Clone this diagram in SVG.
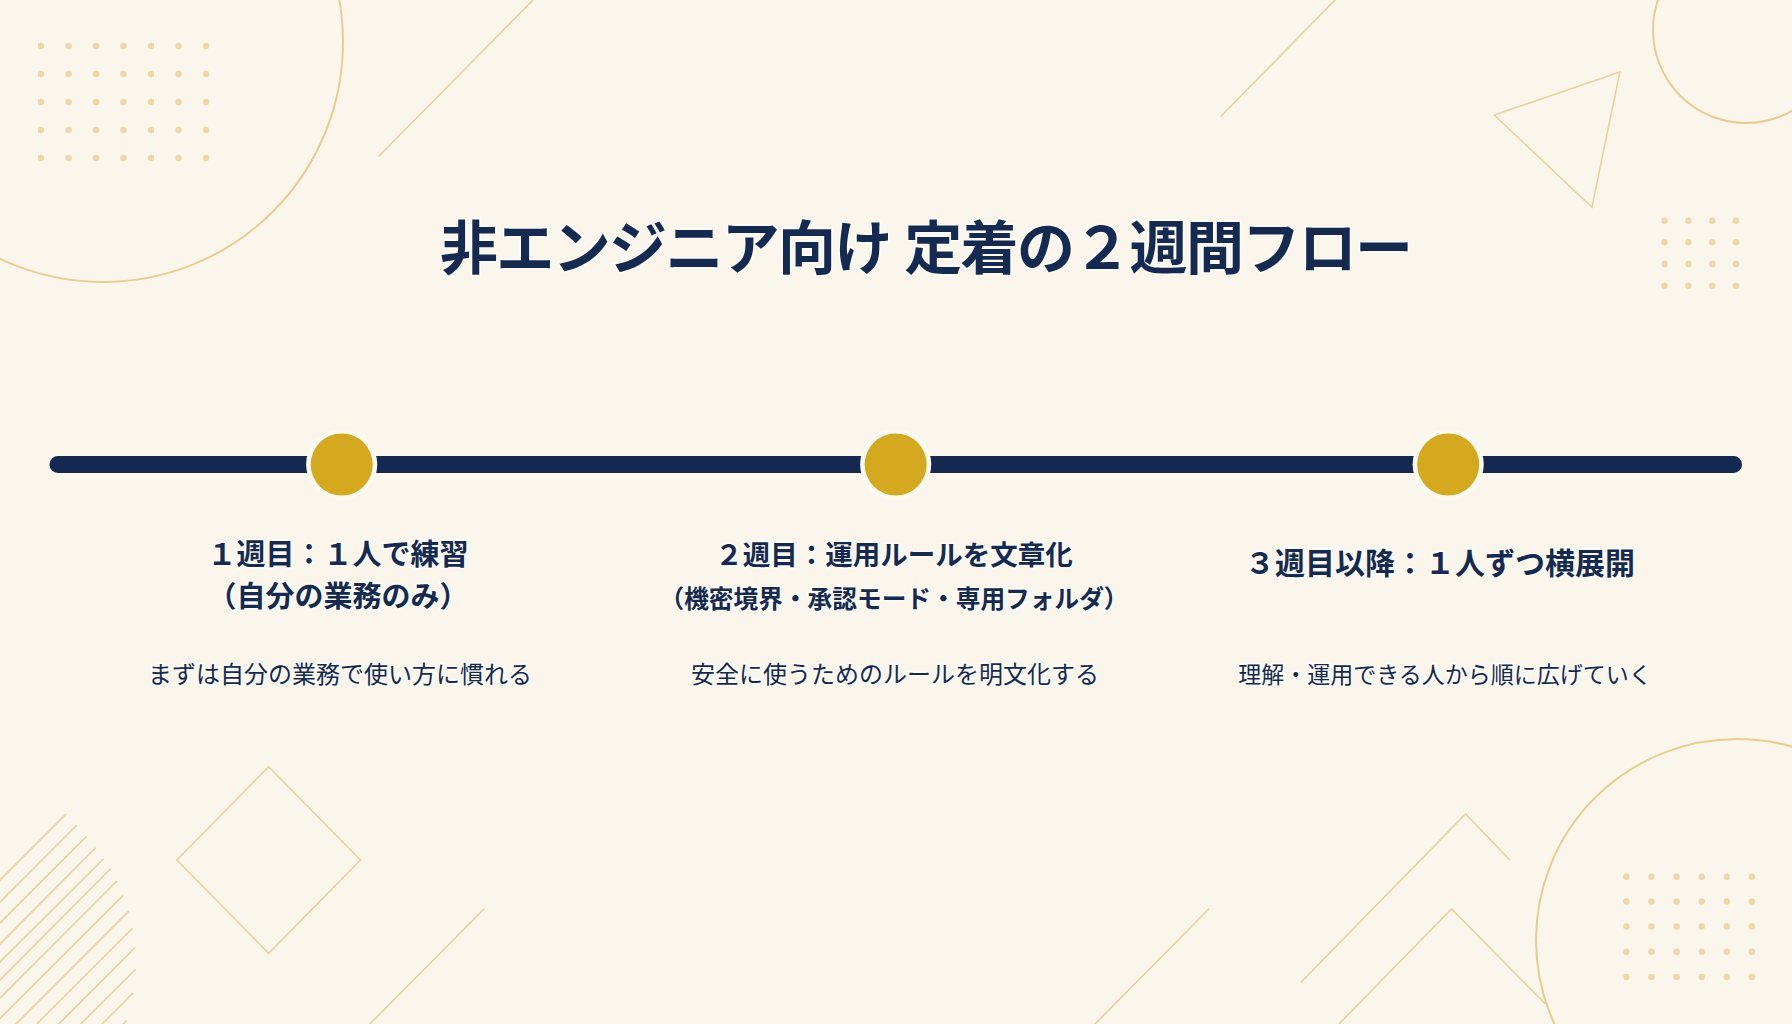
<svg xmlns="http://www.w3.org/2000/svg" width="1792" height="1024" viewBox="0 0 1792 1024">
<defs>
<style>
.deco{fill:none;stroke:#EAD29C;stroke-width:1.6;stroke-linecap:round;stroke-linejoin:miter}
.decoc{fill:none;stroke:#E9CD8F;stroke-width:2}
.dot{fill:#EDD8A6}
.title{font-family:"Noto Sans","Noto Sans CJK JP","Noto Sans CJK SC",sans-serif;font-weight:700;fill:#142A50;stroke:#FFFFFF;stroke-opacity:0.6;stroke-width:3;paint-order:stroke}
.head{font-family:"Noto Sans","Noto Sans CJK JP","Noto Sans CJK SC",sans-serif;font-weight:700;fill:#142A50;text-anchor:middle;stroke:#FFFFFF;stroke-opacity:0.6;stroke-width:3;paint-order:stroke}
.body{font-family:"Noto Sans","Noto Sans CJK JP","Noto Sans CJK SC",sans-serif;font-weight:400;fill:#142A50;text-anchor:middle;stroke:#FFFFFF;stroke-opacity:0.6;stroke-width:3;paint-order:stroke}
.ring{fill:#FCF9F2}
.pin{fill:#D4A91D}
.bar{fill:none;stroke:#13294F;stroke-width:17;stroke-linecap:round}
</style>
</defs>
<rect width="1792" height="1024" fill="#FAF6EC"/>
<g id="decor">
<circle class="decoc" cx="103" cy="42" r="240"/>
<line class="deco" x1="379" y1="156" x2="535" y2="-2"/>
<line class="deco" x1="1221.5" y1="115.7" x2="1336" y2="-1"/>
<polygon class="deco" points="1494.3,115 1619.9,72 1591.9,207.3"/>
<circle class="decoc" cx="1746" cy="30" r="93"/>
<polygon class="deco" points="268.7,766.7 360.5,860 268.7,953.3 176.8,860"/>
<g id="hatch">
<line class="deco" x1="65.8" y1="814.3" x2="-1" y2="881"/>
<line class="deco" x1="76.2" y1="825.7" x2="-1" y2="903"/>
<line class="deco" x1="86.1" y1="836.7" x2="-1" y2="924"/>
<line class="deco" x1="95.3" y1="848.3" x2="-1" y2="945"/>
<line class="deco" x1="103.3" y1="859" x2="-1" y2="963"/>
<line class="deco" x1="110.2" y1="869.3" x2="-1" y2="981"/>
<line class="deco" x1="116.7" y1="881.3" x2="-1" y2="999"/>
<line class="deco" x1="122.5" y1="896" x2="-1" y2="1019.5"/>
<line class="deco" x1="128.2" y1="911.7" x2="15" y2="1025"/>
<line class="deco" x1="132" y1="928.7" x2="35.7" y2="1025"/>
<line class="deco" x1="134.7" y1="948" x2="57.7" y2="1025"/>
<line class="deco" x1="135.1" y1="969.7" x2="79.8" y2="1025"/>
<line class="deco" x1="132.8" y1="993.3" x2="101" y2="1025"/>
<line class="deco" x1="126.3" y1="1020.7" x2="122" y2="1025"/>
</g>
<line class="deco" x1="483.7" y1="909.3" x2="368" y2="1026"/>
<line class="deco" x1="1208.8" y1="909" x2="1093" y2="1026"/>
<polyline class="deco" points="1301,982.3 1465.6,814 1509.6,859.7"/>
<polyline class="deco" points="1337,1026 1451.5,909 1544.8,1003.3"/>
<circle class="decoc" cx="1737" cy="940" r="201"/>
<g id="dots-tl">
<circle class="dot" cx="41" cy="46" r="3.2"/><circle class="dot" cx="68.5" cy="46" r="3.2"/><circle class="dot" cx="96" cy="46" r="3.2"/><circle class="dot" cx="123.5" cy="46" r="3.2"/><circle class="dot" cx="151" cy="46" r="3.2"/><circle class="dot" cx="178.5" cy="46" r="3.2"/><circle class="dot" cx="206" cy="46" r="3.2"/>
<circle class="dot" cx="41" cy="74" r="3.2"/><circle class="dot" cx="68.5" cy="74" r="3.2"/><circle class="dot" cx="96" cy="74" r="3.2"/><circle class="dot" cx="123.5" cy="74" r="3.2"/><circle class="dot" cx="151" cy="74" r="3.2"/><circle class="dot" cx="178.5" cy="74" r="3.2"/><circle class="dot" cx="206" cy="74" r="3.2"/>
<circle class="dot" cx="41" cy="102" r="3.2"/><circle class="dot" cx="68.5" cy="102" r="3.2"/><circle class="dot" cx="96" cy="102" r="3.2"/><circle class="dot" cx="123.5" cy="102" r="3.2"/><circle class="dot" cx="151" cy="102" r="3.2"/><circle class="dot" cx="178.5" cy="102" r="3.2"/><circle class="dot" cx="206" cy="102" r="3.2"/>
<circle class="dot" cx="41" cy="130" r="3.2"/><circle class="dot" cx="68.5" cy="130" r="3.2"/><circle class="dot" cx="96" cy="130" r="3.2"/><circle class="dot" cx="123.5" cy="130" r="3.2"/><circle class="dot" cx="151" cy="130" r="3.2"/><circle class="dot" cx="178.5" cy="130" r="3.2"/><circle class="dot" cx="206" cy="130" r="3.2"/>
<circle class="dot" cx="41" cy="158" r="3.2"/><circle class="dot" cx="68.5" cy="158" r="3.2"/><circle class="dot" cx="96" cy="158" r="3.2"/><circle class="dot" cx="123.5" cy="158" r="3.2"/><circle class="dot" cx="151" cy="158" r="3.2"/><circle class="dot" cx="178.5" cy="158" r="3.2"/><circle class="dot" cx="206" cy="158" r="3.2"/>
</g>
<g id="dots-tr">
<circle class="dot" cx="1664.6" cy="220.7" r="3.2"/><circle class="dot" cx="1688.5" cy="220.7" r="3.2"/><circle class="dot" cx="1712.3" cy="220.7" r="3.2"/><circle class="dot" cx="1736" cy="220.7" r="3.2"/>
<circle class="dot" cx="1664.6" cy="242.3" r="3.2"/><circle class="dot" cx="1688.5" cy="242.3" r="3.2"/><circle class="dot" cx="1712.3" cy="242.3" r="3.2"/><circle class="dot" cx="1736" cy="242.3" r="3.2"/>
<circle class="dot" cx="1664.6" cy="264" r="3.2"/><circle class="dot" cx="1688.5" cy="264" r="3.2"/><circle class="dot" cx="1712.3" cy="264" r="3.2"/><circle class="dot" cx="1736" cy="264" r="3.2"/>
<circle class="dot" cx="1664.6" cy="285.7" r="3.2"/><circle class="dot" cx="1688.5" cy="285.7" r="3.2"/><circle class="dot" cx="1712.3" cy="285.7" r="3.2"/><circle class="dot" cx="1736" cy="285.7" r="3.2"/>
</g>
<g id="dots-br">
<circle class="dot" cx="1626.4" cy="876.7" r="3.2"/><circle class="dot" cx="1651.5" cy="876.7" r="3.2"/><circle class="dot" cx="1676.6" cy="876.7" r="3.2"/><circle class="dot" cx="1701.7" cy="876.7" r="3.2"/><circle class="dot" cx="1726.8" cy="876.7" r="3.2"/><circle class="dot" cx="1751.9" cy="876.7" r="3.2"/>
<circle class="dot" cx="1626.4" cy="901.5" r="3.2"/><circle class="dot" cx="1651.5" cy="901.5" r="3.2"/><circle class="dot" cx="1676.6" cy="901.5" r="3.2"/><circle class="dot" cx="1701.7" cy="901.5" r="3.2"/><circle class="dot" cx="1726.8" cy="901.5" r="3.2"/><circle class="dot" cx="1751.9" cy="901.5" r="3.2"/>
<circle class="dot" cx="1626.4" cy="926.5" r="3.2"/><circle class="dot" cx="1651.5" cy="926.5" r="3.2"/><circle class="dot" cx="1676.6" cy="926.5" r="3.2"/><circle class="dot" cx="1701.7" cy="926.5" r="3.2"/><circle class="dot" cx="1726.8" cy="926.5" r="3.2"/><circle class="dot" cx="1751.9" cy="926.5" r="3.2"/>
<circle class="dot" cx="1626.4" cy="951.7" r="3.2"/><circle class="dot" cx="1651.5" cy="951.7" r="3.2"/><circle class="dot" cx="1676.6" cy="951.7" r="3.2"/><circle class="dot" cx="1701.7" cy="951.7" r="3.2"/><circle class="dot" cx="1726.8" cy="951.7" r="3.2"/><circle class="dot" cx="1751.9" cy="951.7" r="3.2"/>
<circle class="dot" cx="1626.4" cy="977" r="3.2"/><circle class="dot" cx="1651.5" cy="977" r="3.2"/><circle class="dot" cx="1676.6" cy="977" r="3.2"/><circle class="dot" cx="1701.7" cy="977" r="3.2"/><circle class="dot" cx="1726.8" cy="977" r="3.2"/><circle class="dot" cx="1751.9" cy="977" r="3.2"/>
</g>
</g>
<g id="title">
<text class="title" x="440" y="268.5" font-size="58" textLength="973" lengthAdjust="spacing">非エンジニア向け 定着の２週間フロー</text>
</g>
<g id="connectors">
<line class="bar" x1="58" y1="464.5" x2="1733.5" y2="464.5"/>
</g>
<g id="week1">
<circle class="ring" cx="341.7" cy="464.5" r="35.6"/>
<circle class="pin" cx="341.7" cy="464.5" r="31"/>
<text class="head" x="338" y="565" font-size="29">１週目：１人で練習</text>
<text class="head" x="338" y="607" font-size="29">（自分の業務のみ）</text>
<text class="body" x="340" y="683" font-size="24">まずは自分の業務で使い方に慣れる</text>
</g>
<g id="week2">
<circle class="ring" cx="895.7" cy="464.5" r="35.6"/>
<circle class="pin" cx="895.7" cy="464.5" r="31"/>
<text class="head" x="894" y="565" font-size="27.5">２週目：運用ルールを文章化</text>
<text class="head" x="894" y="608" font-size="24.7">（機密境界・承認モード・専用フォルダ）</text>
<text class="body" x="895" y="683" font-size="24">安全に使うためのルールを明文化する</text>
</g>
<g id="week3">
<circle class="ring" cx="1448.2" cy="464.5" r="35.6"/>
<circle class="pin" cx="1448.2" cy="464.5" r="31"/>
<text class="head" x="1440" y="574" font-size="30">３週目以降：１人ずつ横展開</text>
<text class="body" x="1445" y="683" font-size="23">理解・運用できる人から順に広げていく</text>
</g>
</svg>
